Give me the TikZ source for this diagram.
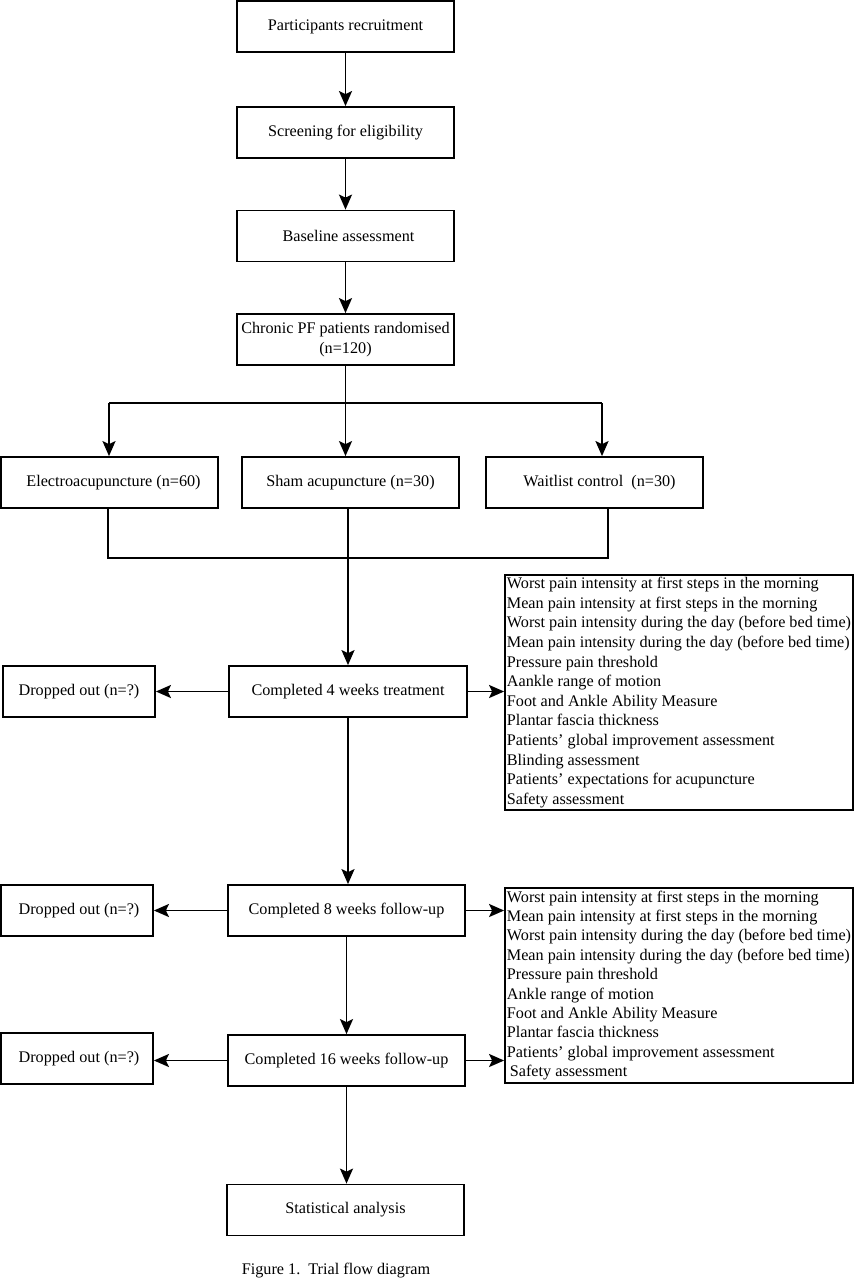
\documentclass[tikz,border=0pt]{standalone}
\usepackage{fontspec}
\setmainfont{Liberation Serif}
\usetikzlibrary{arrows.meta}
\begin{document}
\begin{tikzpicture}[x=1pt,y=-1pt,
  box/.style={draw, line width=1.8pt, minimum height=51pt, inner sep=1pt, align=center,
              font=\fontsize{16.2}{20}\selectfont},
  listbox/.style={draw, line width=1.8pt, inner sep=1pt, align=left},
  conn/.style={line width=1.8pt},
  arr/.style={line width=1.8pt, -{Stealth[length=15pt,width=13pt,inset=3pt]}}]
\useasboundingbox (0,0) rectangle (854,1280);
% main column
\node[box, minimum width=217pt] (rec)  at (345.5,26.5) {Participants recruitment};
\node[box, minimum width=217pt] (scr)  at (345.5,132.5) {Screening for eligibility};
\node[box, minimum width=217pt] (base) at (345.5,236) {\hspace{6pt}Baseline assessment};
\node[box, minimum width=217pt] (rand) at (345.5,339.5) {Chronic PF patients randomised\\(n=120)};
% arms
\node[box, minimum width=217pt] (ea)   at (109.5,482.5) {\hspace{8pt}Electroacupuncture (n=60)};
\node[box, minimum width=217pt] (sham) at (350.5,482.5) {Sham acupuncture (n=30)};
\node[box, minimum width=217pt] (wait) at (594.5,482.5) {\hspace{10pt}Waitlist control\ \ (n=30)};
% stages
\node[box, minimum width=238pt] (c4)   at (348,691.5) {Completed 4 weeks treatment};
\node[box, minimum width=152pt] (d1)   at (79,691.5) {Dropped out (n=?)};
\node[box, minimum width=237pt] (c8)   at (346.5,910.5) {Completed 8 weeks follow-up};
\node[box, minimum width=152pt] (d2)   at (77,910.5) {\hspace{4pt}Dropped out (n=?)};
\node[box, minimum width=237pt] (c16)  at (346.5,1060.5) {\raisebox{-3pt}{Completed 16 weeks follow-up}};
\node[box, minimum width=152pt] (d3)   at (77,1058.5) {\hspace{4pt}Dropped out (n=?)};
\node[box, minimum width=237pt] (stat) at (345.5,1210) {Statistical analysis};
% outcome lists
\node[listbox, minimum width=348pt, minimum height=235pt,
      font=\fontsize{16.2}{19.6}\selectfont] (o1) at (679,692.5) {%
Worst pain intensity at first steps in the morning\\
Mean pain intensity at first steps in the morning\\
Worst pain intensity during the day (before bed time)\\
Mean pain intensity during the day (before bed time)\\
Pressure pain threshold\\
Aankle range of motion\\
Foot and Ankle Ability Measure\\
Plantar fascia thickness\\
Patients’ global improvement assessment\\
Blinding assessment\\
Patients’ expectations for acupuncture\\
Safety assessment};
\node[listbox, minimum width=348pt, minimum height=195pt,
      font=\fontsize{16.2}{19.4}\selectfont] (o2) at (679,985.5) {%
Worst pain intensity at first steps in the morning\\
Mean pain intensity at first steps in the morning\\
Worst pain intensity during the day (before bed time)\\
Mean pain intensity during the day (before bed time)\\
Pressure pain threshold\\
Ankle range of motion\\
Foot and Ankle Ability Measure\\
Plantar fascia thickness\\
Patients’ global improvement assessment\\
\hspace{3pt}Safety assessment};
% caption
\node[font=\fontsize{16.2}{20}\selectfont] (cap) at (336,1271) {Figure 1.\ \ Trial flow diagram};
% connectors
\draw[arr] (rec) -- (scr);
\draw[arr] (scr) -- (base);
\draw[arr] (base) -- (rand);
\coordinate (bl) at (109,403);
\coordinate (br) at (602,403);
\draw[conn] (bl) -- (br);
\draw[arr] (rand.south) -- (rand.south |- sham.north);
\draw[arr] (bl) -- (bl |- ea.north);
\draw[arr] (br) -- (br |- wait.north);
\coordinate (jl) at (108,558);
\coordinate (jr) at (608,558);
\draw[conn] (jl |- ea.south) -- (jl) -- (jr) -- (jr |- wait.south);
\draw[arr] (c4.north |- sham.south) -- (c4.north);
\draw[arr] (c4.west) -- (d1.east);
\draw[arr] (c4.east) -- (c4.east -| o1.west);
\draw[arr] (c4.south) -- (c4.south |- c8.north);
\draw[arr] (c8.west) -- (d2.east);
\draw[arr] (c8.east) -- (c8.east -| o2.west);
\draw[arr] (c8.south) -- (c16.north);
\draw[arr] (c16.west) -- (c16.west -| d3.east);
\draw[arr] (c16.east) -- (c16.east -| o2.west);
\draw[arr] (c16.south) -- (c16.south |- stat.north);
\end{tikzpicture}
\end{document}
